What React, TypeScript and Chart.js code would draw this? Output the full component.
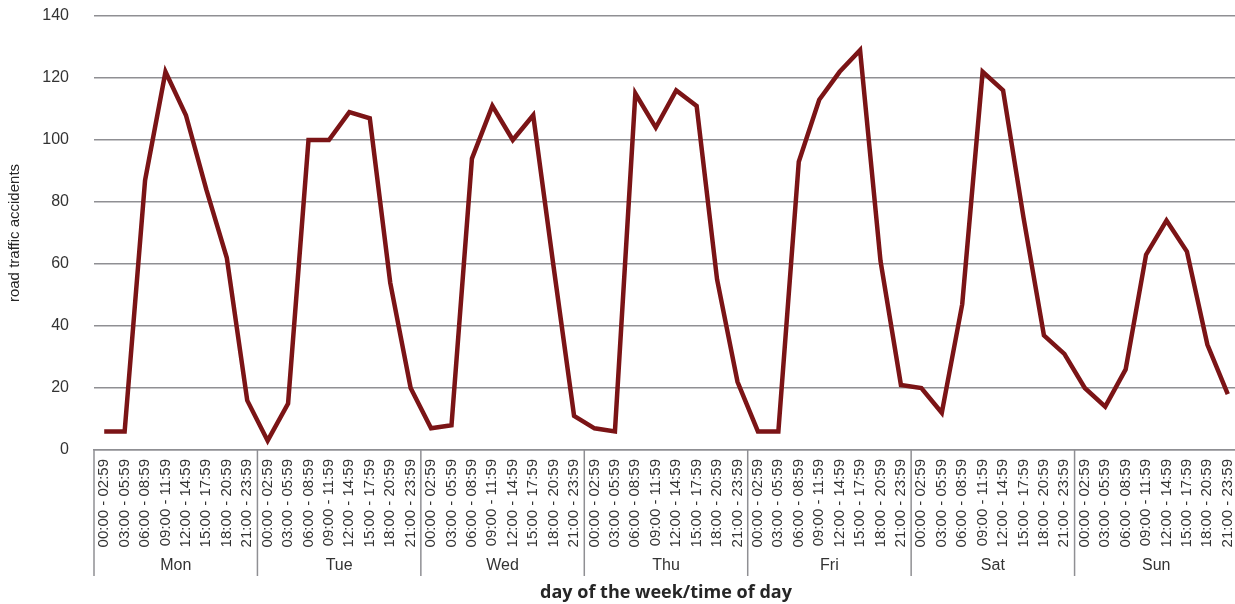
import React, { useEffect, useRef } from "react";
import { Chart, registerables } from "chart.js";

Chart.register(...registerables);

const days = ["Mon", "Tue", "Wed", "Thu", "Fri", "Sat", "Sun"];
const timeSlots = [
  "00:00 - 02:59",
  "03:00 - 05:59",
  "06:00 - 08:59",
  "09:00 - 11:59",
  "12:00 - 14:59",
  "15:00 - 17:59",
  "18:00 - 20:59",
  "21:00 - 23:59",
];

const monValues = [6, 6, 87, 122, 108, 84, 62, 16];
const tueValues = [3, 15, 100, 100, 109, 107, 54, 20];
const wedValues = [7, 8, 94, 111, 100, 108, 59, 11];
const thuValues = [7, 6, 115, 104, 116, 111, 55, 22];
const friValues = [6, 6, 93, 113, 122, 129, 61, 21];
const satValues = [20, 12, 47, 122, 116, 75, 37, 31];
const sunValues = [20, 14, 26, 63, 74, 64, 34, 18];

const yTicks = [0, 20, 40, 60, 80, 100, 120, 140];

const labels: string[] = [];
days.forEach(() => timeSlots.forEach((t) => labels.push(t)));
const values = [
  ...monValues,
  ...tueValues,
  ...wedValues,
  ...thuValues,
  ...friValues,
  ...satValues,
  ...sunValues,
];

const GRID = "#8f8f93";
const TEXT = "#333333";

const dayGroupPlugin = {
  id: "dayGroups",
  afterDraw(chart: any) {
    const x = chart.scales.x;
    const area = chart.chartArea;
    const ctx = chart.ctx;
    const half = (x.getPixelForValue(1) - x.getPixelForValue(0)) / 2;
    ctx.save();
    ctx.strokeStyle = GRID;
    ctx.lineWidth = 1.5;
    for (let d = 0; d <= days.length; d++) {
      const bx =
        d < days.length
          ? x.getPixelForValue(d * timeSlots.length) - half
          : x.getPixelForValue(d * timeSlots.length - 1) + half;
      ctx.beginPath();
      ctx.moveTo(bx, area.bottom);
      ctx.lineTo(bx, 576);
      ctx.stroke();
    }
    ctx.fillStyle = TEXT;
    ctx.font = "16px 'Liberation Sans', Arial, sans-serif";
    ctx.textAlign = "center";
    ctx.textBaseline = "middle";
    days.forEach((d, i) => {
      const a = x.getPixelForValue(i * timeSlots.length) - half;
      const b = x.getPixelForValue((i + 1) * timeSlots.length - 1) + half;
      ctx.fillText(d, (a + b) / 2, 566);
    });
    ctx.restore();
  },
};

function zeroPadding(scale: any) {
  scale.paddingTop = 0;
  scale.paddingBottom = 0;
  scale.paddingLeft = 0;
  scale.paddingRight = 0;
}

export default function App() {
  const ref = useRef<HTMLCanvasElement | null>(null);
  useEffect(() => {
    if (!ref.current) return;
    const chart = new Chart(ref.current, {
      type: "line",
      data: {
        labels,
        datasets: [
          {
            data: values,
            borderColor: "#7b1416",
            backgroundColor: "#7b1416",
            borderWidth: 4.5,
            pointRadius: 0,
            tension: 0,
            borderJoinStyle: "miter",
            fill: false,
          },
        ],
      },
      options: {
        animation: false,
        responsive: false,
        layout: { padding: { top: 16, right: 4, left: 0, bottom: 0 } },
        plugins: { legend: { display: false }, tooltip: { enabled: false } },
        scales: {
          x: {
            type: "category",
            offset: true,
            grid: { display: false, drawTicks: false },
            border: { display: true, color: GRID, width: 1.5 },
            ticks: {
              autoSkip: false,
              maxRotation: 90,
              minRotation: 90,
              padding: 9,
              color: TEXT,
              font: { family: "'Liberation Sans', Arial, sans-serif", size: 15 },
            },
            title: {
              display: true,
              text: "day of the week/time of day",
              color: "#262626",
              font: { family: "'Open Sans', sans-serif", size: 18, weight: "bold" },
              padding: { top: 0, bottom: 0 },
            },
            afterFit(scale: any) {
              scale.height = 154;
              zeroPadding(scale);
            },
          },
          y: {
            min: 0,
            max: 140,
            afterBuildTicks(scale: any) {
              scale.ticks = yTicks.map((v) => ({ value: v }));
            },
            grid: { color: GRID, lineWidth: 1.5, drawTicks: false },
            border: { display: false },
            ticks: {
              padding: 25,
              color: TEXT,
              font: { family: "'Liberation Sans', Arial, sans-serif", size: 16 },
            },
            title: {
              display: true,
              text: "road traffic accidents",
              color: "#262626",
              font: { family: "'Liberation Sans', Arial, sans-serif", size: 15 },
              padding: { top: 6, bottom: 0 },
            },
            afterFit(scale: any) {
              scale.width = 94;
              zeroPadding(scale);
            },
          },
        },
      },
      plugins: [dayGroupPlugin],
    } as any);
    return () => chart.destroy();
  }, []);
  return (
    <div
      style={{
        position: "fixed",
        left: 0,
        top: 0,
        width: 1235,
        height: 604,
        overflow: "hidden",
        background: "#fff",
      }}
    >
      <canvas ref={ref} width={1242} height={604} style={{ display: "block" }} />
    </div>
  );
}
